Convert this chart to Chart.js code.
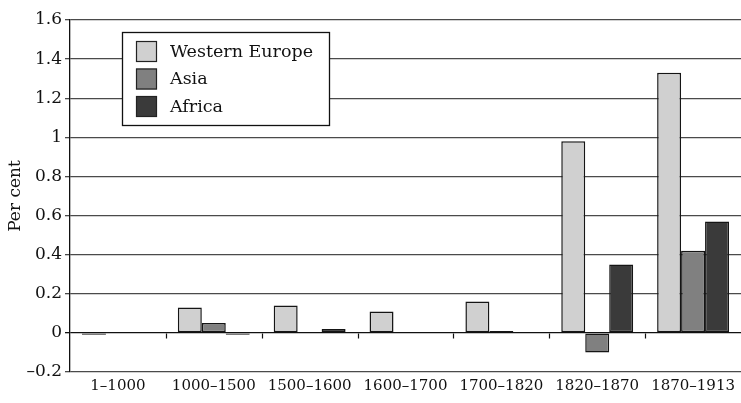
<!DOCTYPE html>
<html>
<head>
<meta charset="utf-8">
<script src="https://cdn.jsdelivr.net/npm/chart.js@4.4.1/dist/chart.umd.min.js"></script>
<style>
  html, body { margin: 0; padding: 0; background: #fff; }
  #wrap { width: 741px; height: 403px; }
</style>
</head>
<body>
<div id="wrap"><canvas id="c" width="741" height="403"></canvas></div>
<script>
// Growth of GDP per capita, per cent per year, by period
const periods = ['1–1000', '1000–1500', '1500–1600', '1600–1700', '1700–1820', '1820–1870', '1870–1913'];
const westernEurope = [-0.01, 0.13, 0.14, 0.11, 0.16, 0.98, 1.33];
const asia          = [0.00, 0.05, 0.00, 0.00, 0.01, -0.10, 0.42];
const africa        = [0.00, -0.01, 0.02, 0.00, 0.00, 0.35, 0.57];
const seriesNames   = ['Western Europe', 'Asia', 'Africa'];
const yTicks        = [-0.2, 0, 0.2, 0.4, 0.6, 0.8, 1, 1.2, 1.4, 1.6];

const FONT = '"DejaVu Serif", "Liberation Serif", serif';
const fills = ['#d0d0d0', '#808080', '#3a3a3a'];

// Boxed legend drawn inside the plot area
const boxedLegend = {
  id: 'boxedLegend',
  afterDatasetsDraw(chart) {
    const ctx = chart.ctx;
    const x = 122, y = 32, w = 208, h = 94;
    ctx.save();
    ctx.fillStyle = '#fff';
    ctx.fillRect(x, y, w, h);
    ctx.strokeStyle = '#111';
    ctx.lineWidth = 1.3;
    ctx.strokeRect(x + 0.5, y + 0.5, w - 1, h - 1);
    ctx.font = '17.5px ' + FONT;
    ctx.textBaseline = 'middle';
    ctx.textAlign = 'left';
    chart.data.datasets.forEach((ds, i) => {
      const sy = y + 9 + i * 27.5;
      ctx.fillStyle = ds.backgroundColor;
      ctx.fillRect(x + 14, sy, 21, 21);
      ctx.strokeStyle = '#222';
      ctx.lineWidth = 1.2;
      ctx.strokeRect(x + 14.5, sy + 0.5, 20, 20);
      ctx.fillStyle = '#111';
      ctx.fillText(ds.label, x + 48, sy + 11);
    });
    ctx.restore();
  }
};

// Category tick marks on the zero line
const zeroTicks = {
  id: 'zeroTicks',
  afterDatasetsDraw(chart) {
    const xs = chart.scales.x, ys = chart.scales.y;
    const y0 = Math.round(ys.getPixelForValue(0)) + 0.5;
    const ctx = chart.ctx;
    ctx.save();
    ctx.strokeStyle = '#111';
    ctx.lineWidth = 1.2;
    ctx.beginPath();
    for (let i = 1; i < periods.length; i++) {
      const px = Math.round((xs.getPixelForValue(i - 1) + xs.getPixelForValue(i)) / 2) + 0.5;
      ctx.moveTo(px, y0);
      ctx.lineTo(px, y0 + 5);
    }
    ctx.stroke();
    ctx.restore();
  }
};

new Chart(document.getElementById('c'), {
  type: 'bar',
  data: {
    labels: periods,
    datasets: [
      { label: seriesNames[0], data: westernEurope, backgroundColor: fills[0] },
      { label: seriesNames[1], data: asia,          backgroundColor: fills[1] },
      { label: seriesNames[2], data: africa,        backgroundColor: fills[2] }
    ].map(d => Object.assign(d, { borderColor: '#151515', borderWidth: 1.5, borderSkipped: false }))
  },
  options: {
    responsive: false,
    animation: false,
    layout: { padding: { top: 20, right: 0, left: 0, bottom: 0 } },
    datasets: { bar: { categoryPercentage: 0.75, barPercentage: 1 } },
    plugins: { legend: { display: false }, tooltip: { enabled: false } },
    scales: {
      x: {
        grid: { display: false },
        border: { display: false },
        ticks: { color: '#111', font: { family: FONT, size: 15 }, padding: -3, maxRotation: 0, autoSkip: false },
        afterFit(s) { s.height = 31; }
      },
      y: {
        min: -0.2, max: 1.6,
        afterBuildTicks(s) { s.ticks = yTicks.map(v => ({ value: v })); },
        grid: {
          color: ctx => (ctx.tick && ctx.tick.value === 0) ? '#111' : '#4a4a4a',
          lineWidth: 1.3,
          tickLength: 5
        },
        border: { display: true, color: '#111', width: 1.3 },
        ticks: {
          color: '#111',
          font: { family: FONT, size: 17 },
          padding: 3,
          callback: v => (v < 0 ? '–' : '') + String(Math.abs(Math.round(v * 10) / 10))
        },
        title: { display: true, text: 'Per cent', color: '#111', font: { family: FONT, size: 17 }, padding: { top: 5, bottom: 0 } },
        afterFit(s) { s.width = 70; }
      }
    }
  },
  plugins: [boxedLegend, zeroTicks]
});
</script>
</body>
</html>
